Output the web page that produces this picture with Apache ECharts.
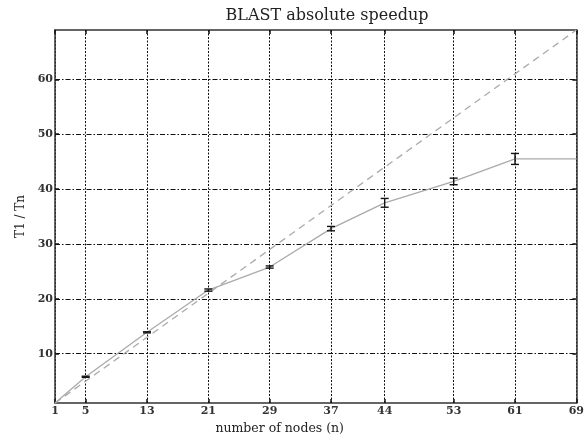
<!DOCTYPE html>
<html>
<head>
<meta charset="utf-8">
<script src="https://cdn.jsdelivr.net/npm/echarts@6/dist/echarts.min.js"></script>
<style>
  html, body { margin: 0; padding: 0; background: #fff; }
  #chart { width: 587px; height: 440px; }
</style>
</head>
<body>
<div id="chart"></div>
<script>
// measured speedup T1/Tn per node count
const nodes = [1, 5, 13, 21, 29, 37, 44, 53, 61, 69];
const speedup = [1, 5.8, 13.9, 21.6, 25.8, 32.8, 37.5, 41.4, 45.5, 45.5];
// error bar half heights (no bar drawn at 69)
const errNodes = [5, 13, 21, 29, 37, 44, 53, 61];
const errSpeed = [5.8, 13.9, 21.6, 25.8, 32.8, 37.5, 41.4, 45.5];
const errHalf = [0.1, 0.1, 0.2, 0.2, 0.4, 0.8, 0.6, 1.0];
// ideal (linear) speedup
const idealX = [1, 69];
const idealY = [1, 69];
const xTicks = [1, 5, 13, 21, 29, 37, 44, 53, 61, 69];
const yTicks = [10, 20, 30, 40, 50, 60];

const font = '"DejaVu Serif", "Liberation Serif", serif';
const chart = echarts.init(document.getElementById('chart'));

const errData = errNodes.map((x, i) => [x, errSpeed[i] - errHalf[i], errSpeed[i] + errHalf[i]]);

function renderErr(params, api) {
  const lo = api.coord([api.value(0), api.value(1)]);
  const hi = api.coord([api.value(0), api.value(2)]);
  const w = 4;
  const style = { stroke: '#111', lineWidth: 1.4 };
  return {
    type: 'group',
    children: [
      { type: 'line', shape: { x1: lo[0], y1: lo[1], x2: hi[0], y2: hi[1] }, style: style },
      { type: 'line', shape: { x1: lo[0] - w, y1: lo[1], x2: lo[0] + w, y2: lo[1] }, style: style },
      { type: 'line', shape: { x1: hi[0] - w, y1: hi[1], x2: hi[0] + w, y2: hi[1] }, style: style }
    ]
  };
}

const axisLine = { show: true, lineStyle: { color: '#333', width: 1.5 } };
const tickStyle = { color: '#111', width: 1.5 };
const labelStyle = { fontFamily: font, fontSize: 11, fontWeight: 'bold', color: '#333' };

chart.setOption({
  animation: false,
  backgroundColor: '#fff',
  title: {
    text: 'BLAST absolute speedup',
    left: 322,
    textAlign: 'center',
    top: 3,
    textStyle: { fontFamily: font, fontSize: 16, fontWeight: 'normal', color: '#222' }
  },
  grid: { left: 55, right: 8, top: 30, bottom: 34 },
  xAxis: [
    {
      type: 'value',
      min: 1,
      max: 69,
      name: 'number of nodes (n)',
      nameLocation: 'middle',
      nameGap: 18,
      nameTextStyle: { fontFamily: font, fontSize: 12.5, color: '#222', padding: [0, 72, 0, 0] },
      axisLine: axisLine,
      axisTick: { inside: true, length: 4, lineStyle: tickStyle, customValues: xTicks },
      axisLabel: Object.assign({ customValues: xTicks, margin: 3 }, labelStyle),
      splitLine: { show: true, lineStyle: { color: '#111', width: 1, type: [2, 1.5] } }
    },
    {
      type: 'value',
      position: 'top',
      min: 1,
      max: 69,
      axisLine: axisLine,
      axisTick: { inside: true, length: 4, lineStyle: tickStyle, customValues: xTicks },
      axisLabel: { show: false },
      splitLine: { show: false }
    }
  ],
  yAxis: [
    {
      type: 'value',
      min: 1,
      max: 69,
      name: 'T1 / Tn',
      nameLocation: 'middle',
      nameGap: 24,
      nameTextStyle: { fontFamily: font, fontSize: 12, color: '#222' },
      axisLine: axisLine,
      axisTick: { inside: true, length: 4, lineStyle: tickStyle, customValues: yTicks },
      axisLabel: Object.assign({ customValues: yTicks, margin: 2 }, labelStyle),
      splitLine: { show: true, lineStyle: { color: '#111', width: 1, type: [5, 2, 1.5, 2] } }
    },
    {
      type: 'value',
      position: 'right',
      min: 1,
      max: 69,
      axisLine: axisLine,
      axisTick: { inside: true, length: 4, lineStyle: tickStyle, customValues: yTicks },
      axisLabel: { show: false },
      splitLine: { show: false }
    }
  ],
  series: [
    {
      name: 'ideal',
      type: 'line',
      data: idealX.map((x, i) => [x, idealY[i]]),
      symbol: 'none',
      lineStyle: { color: '#aaa', width: 1.3, type: [7, 5] },
      z: 3
    },
    {
      name: 'measured',
      type: 'line',
      data: nodes.map((x, i) => [x, speedup[i]]),
      symbol: 'none',
      lineStyle: { color: '#aaa', width: 1.3 },
      z: 4
    },
    {
      name: 'error',
      type: 'custom',
      renderItem: renderErr,
      data: errData,
      encode: { x: 0, y: [1, 2] },
      z: 5
    }
  ]
});
</script>
</body>
</html>
